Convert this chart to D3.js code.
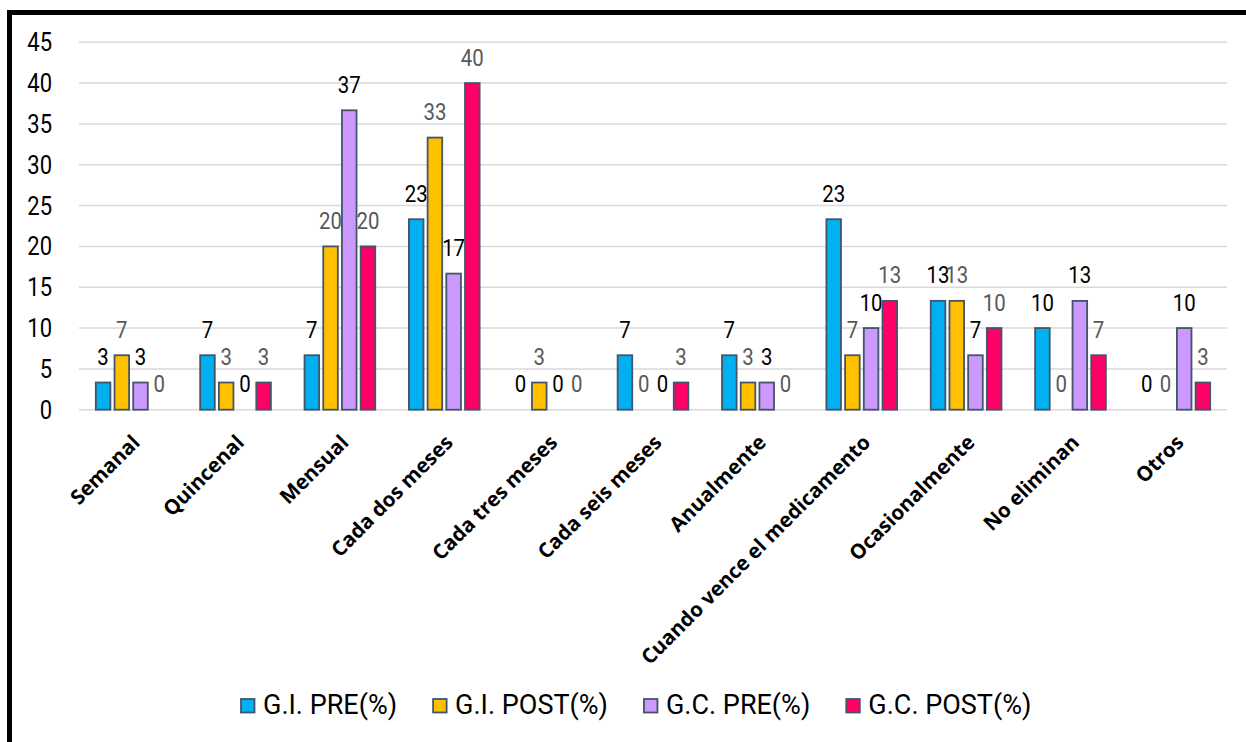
<!DOCTYPE html>
<html>
<head>
<meta charset="utf-8">
<script src="https://cdn.jsdelivr.net/npm/d3@7"></script>
<style>
  html, body { margin: 0; padding: 0; background: #fff; }
  svg { display: block; }
</style>
</head>
<body>
<svg id="chart" width="1246" height="742"></svg>
<script>
// Frecuencia con la que se eliminan los medicamentos (%)
const categories = [
  "Semanal", "Quincenal", "Mensual", "Cada dos meses", "Cada tres meses",
  "Cada seis meses", "Anualmente", "Cuando vence el medicamento",
  "Ocasionalmente", "No eliminan", "Otros"
];
const seriesNames = ["G.I. PRE(%)", "G.I. POST(%)", "G.C. PRE(%)", "G.C. POST(%)"];
const giPre  = [3.33, 6.67, 6.67, 23.33, 0, 6.67, 6.67, 23.33, 13.33, 10, 0];
const giPost = [6.67, 3.33, 20, 33.33, 3.33, 0, 3.33, 6.67, 13.33, 0, 0];
const gcPre  = [3.33, 0, 36.67, 16.67, 0, 0, 3.33, 10, 6.67, 13.33, 10];
const gcPost = [0, 3.33, 20, 40, 0, 3.33, 0, 13.33, 10, 6.67, 3.33];
const seriesValues = [giPre, giPost, gcPre, gcPost];
const yTicks = [0, 5, 10, 15, 20, 25, 30, 35, 40, 45];

const colors = ["#00B0F0", "#FFC000", "#CC99FF", "#FF0066"];
const labelColors = ["#000000", "#595959", "#000000", "#595959"];
const barStroke = "#44546A";
const numFont = "Roboto, 'Liberation Sans', sans-serif";
const catFont = "'Open Sans', 'Liberation Sans', sans-serif";

const svg = d3.select("#chart");

// Outer frame
svg.append("rect")
  .attr("x", 9.5).attr("y", 12.5)
  .attr("width", 1260).attr("height", 760)
  .attr("fill", "none").attr("stroke", "#000").attr("stroke-width", 5);

const plot = { left: 79, right: 1227, top: 42.3, bottom: 409.7 };

const y = d3.scaleLinear().domain([0, 45]).range([plot.bottom, plot.top]);
const x0 = d3.scaleBand().domain(categories)
  .range([plot.left, plot.right]).paddingInner(0.3225).paddingOuter(0.161);
const x1 = d3.scaleBand().domain(d3.range(seriesNames.length))
  .range([0, x0.bandwidth()]).paddingInner(0.22);

// Gridlines
svg.append("g").selectAll("line").data(yTicks).join("line")
  .attr("x1", plot.left).attr("x2", plot.right)
  .attr("y1", d => y(d)).attr("y2", d => y(d))
  .attr("stroke", "#D9D9D9").attr("stroke-width", 1.5);

// Y axis labels (condensed numerals)
const yAxis = d3.axisLeft(y).tickValues(yTicks).tickSize(0).tickPadding(0);
const yg = svg.append("g").attr("transform", "translate(52,0)").call(yAxis);
yg.select(".domain").remove();
yg.selectAll(".tick text")
  .attr("x", 0).attr("dy", null).attr("y", 0)
  .attr("dominant-baseline", "central")
  .attr("transform", "scale(0.88,1)")
  .attr("font-family", numFont).attr("font-size", 25)
  .attr("fill", "#000").attr("text-anchor", "end");

// Bars
const flat = [];
categories.forEach((c, i) => {
  seriesValues.forEach((vals, s) => flat.push({ cat: c, s, v: vals[i] }));
});

const bars = svg.append("g");
bars.selectAll("rect").data(flat.filter(d => d.v > 0)).join("rect")
  .attr("x", d => x0(d.cat) + x1(d.s))
  .attr("y", d => y(d.v))
  .attr("width", x1.bandwidth())
  .attr("height", d => y(0) - y(d.v))
  .attr("fill", d => colors[d.s])
  .attr("stroke", barStroke).attr("stroke-width", 1.8);

// Value labels
svg.append("g").selectAll("text").data(flat).join("text")
  .attr("transform", d =>
    `translate(${x0(d.cat) + x1(d.s) + x1.bandwidth() / 2},${y(d.v) - 17.5}) scale(0.85,1)`)
  .attr("text-anchor", "middle")
  .attr("font-family", numFont).attr("font-size", 24)
  .attr("fill", d => labelColors[d.s])
  .text(d => d3.format(".0f")(d.v));

// Category labels, rotated
svg.append("g").selectAll("text").data(categories).join("text")
  .attr("transform", d =>
    `translate(${x0(d) + x0.bandwidth() / 2 + 10},${plot.bottom + 34}) rotate(-45)`)
  .attr("text-anchor", "end")
  .attr("font-family", catFont).attr("font-weight", 700).attr("font-size", 20.5)
  .attr("fill", "#000")
  .text(d => d);

// Legend
const legend = svg.append("g");
let lx = 240;
seriesNames.forEach((name, s) => {
  legend.append("rect")
    .attr("x", lx + 1).attr("y", 699)
    .attr("width", 13.5).attr("height", 13.5)
    .attr("fill", colors[s]).attr("stroke", barStroke).attr("stroke-width", 1.8);
  const t = legend.append("text")
    .attr("x", lx + 23).attr("y", 714)
    .attr("font-family", numFont).attr("font-size", 27)
    .attr("fill", "#000")
    .text(name);
  lx = lx + 23 + t.node().getComputedTextLength() + 35;
});
</script>
</body>
</html>
